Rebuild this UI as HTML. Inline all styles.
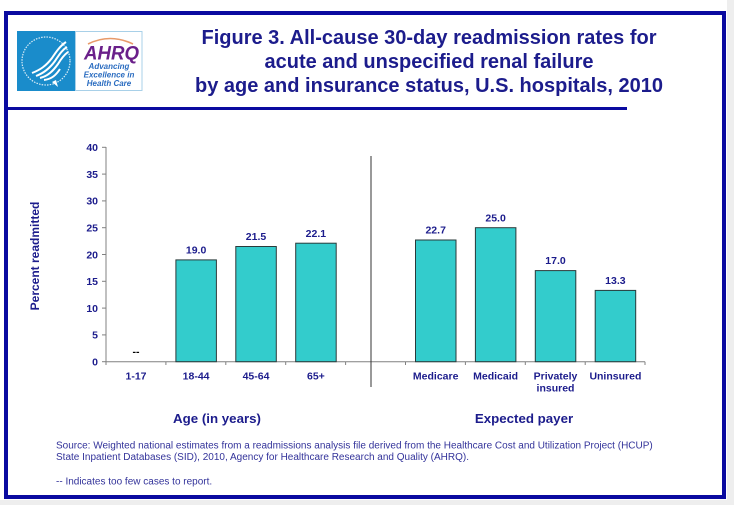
<!DOCTYPE html>
<html><head><meta charset="utf-8"><style>
html,body{margin:0;padding:0;background:#fff;}
svg{display:block;}
text{font-family:"Liberation Sans",Arial,sans-serif;}
</style></head><body>
<svg width="734" height="505" viewBox="0 0 734 505" xmlns="http://www.w3.org/2000/svg">
<rect x="0" y="0" width="734" height="505" fill="#fff"/>
<rect x="727" y="0" width="7" height="505" fill="#eeeeee"/>
<rect x="0" y="500" width="734" height="5" fill="#eeeeee"/>
<!-- frame -->
<rect x="6" y="13" width="718" height="484" fill="none" stroke="#0a0aa0" stroke-width="4"/>
<rect x="4" y="107" width="623" height="3" fill="#0a0aa0"/>
<!-- logo -->
<rect x="17" y="31" width="58" height="60" fill="#1a8ccb"/>
<circle cx="46" cy="61" r="24" fill="none" stroke="#fff" stroke-width="1.2" stroke-dasharray="1.5 1.2" opacity="0.85"/>
<path d="M32 73 C40 70 46 66 52 58 C56 52 60 46 66 42" fill="none" stroke="#fff" stroke-width="2"/>
<path d="M36 76 C44 73 50 68 55 61 C59 55 62 50 67 47" fill="none" stroke="#fff" stroke-width="2"/>
<path d="M40 78 C48 76 53 71 58 64 C61 59 64 55 68 52" fill="none" stroke="#fff" stroke-width="2"/>
<path d="M44 80 C52 79 56 75 60 69" fill="none" stroke="#fff" stroke-width="2"/>
<path d="M52 82 L58 87 L56 80 Z" fill="#fff"/>
<rect x="75.5" y="31.5" width="66.5" height="59" fill="#fff" stroke="#a8d0e8" stroke-width="1"/>
<path d="M88 44 Q110 33 133 44" fill="none" stroke="#e89a6a" stroke-width="1.6"/>
<text x="84" y="59.5" font-size="19" font-weight="bold" font-style="italic" fill="#6a1f8a" textLength="55" lengthAdjust="spacingAndGlyphs">AHRQ</text>
<text x="109" y="69" text-anchor="middle" font-size="8" font-weight="bold" font-style="italic" fill="#2a6cc0">Advancing</text>
<text x="109" y="77.5" text-anchor="middle" font-size="8" font-weight="bold" font-style="italic" fill="#2a6cc0">Excellence in</text>
<text x="109" y="86" text-anchor="middle" font-size="8" font-weight="bold" font-style="italic" fill="#2a6cc0">Health Care</text>
<!-- title -->
<g font-size="20" font-weight="bold" fill="#1c1c8c" text-anchor="middle">
<text x="429" y="44">Figure 3. All-cause 30-day readmission rates for</text>
<text x="429" y="68">acute and unspecified renal failure</text>
<text x="429" y="92">by age and insurance status, U.S. hospitals, 2010</text>
</g>
<!-- y axis -->
<line x1="106" y1="147" x2="106" y2="362" stroke="#808080" stroke-width="1"/>
<g stroke="#808080" stroke-width="1">
<line x1="102" y1="361.7" x2="106" y2="361.7"/>
<line x1="102" y1="334.9" x2="106" y2="334.9"/>
<line x1="102" y1="308.1" x2="106" y2="308.1"/>
<line x1="102" y1="281.3" x2="106" y2="281.3"/>
<line x1="102" y1="254.5" x2="106" y2="254.5"/>
<line x1="102" y1="227.7" x2="106" y2="227.7"/>
<line x1="102" y1="200.9" x2="106" y2="200.9"/>
<line x1="102" y1="174.1" x2="106" y2="174.1"/>
<line x1="102" y1="147.3" x2="106" y2="147.3"/>
</g>
<g font-size="10.5" font-weight="bold" fill="#1c1c8c" text-anchor="end">
<text x="98" y="365.5">0</text>
<text x="98" y="338.7">5</text>
<text x="98" y="311.9">10</text>
<text x="98" y="285.1">15</text>
<text x="98" y="258.3">20</text>
<text x="98" y="231.5">25</text>
<text x="98" y="204.7">30</text>
<text x="98" y="177.9">35</text>
<text x="98" y="151.1">40</text>
</g>
<text transform="translate(39,256) rotate(-90)" text-anchor="middle" font-size="12" font-weight="bold" fill="#1c1c8c">Percent readmitted</text>
<!-- x axis -->
<line x1="106" y1="361.7" x2="645" y2="361.7" stroke="#808080" stroke-width="1"/>
<g stroke="#808080" stroke-width="1">
<line x1="106" y1="361.7" x2="106" y2="365"/>
<line x1="165.9" y1="361.7" x2="165.9" y2="365"/>
<line x1="225.8" y1="361.7" x2="225.8" y2="365"/>
<line x1="285.7" y1="361.7" x2="285.7" y2="365"/>
<line x1="345.6" y1="361.7" x2="345.6" y2="365"/>
<line x1="405.5" y1="361.7" x2="405.5" y2="365"/>
<line x1="465.4" y1="361.7" x2="465.4" y2="365"/>
<line x1="525.3" y1="361.7" x2="525.3" y2="365"/>
<line x1="585.2" y1="361.7" x2="585.2" y2="365"/>
<line x1="645" y1="361.7" x2="645" y2="365"/>
</g>
<!-- divider -->
<line x1="371" y1="156" x2="371" y2="387" stroke="#333" stroke-width="1"/>
<!-- bars -->
<g fill="#33cccc" stroke="#2a3a3a" stroke-width="1">
<rect x="175.9" y="259.9" width="40.5" height="101.8"/>
<rect x="235.8" y="246.5" width="40.5" height="115.2"/>
<rect x="295.7" y="243.2" width="40.5" height="118.5"/>
<rect x="415.5" y="240.0" width="40.5" height="121.7"/>
<rect x="475.4" y="227.7" width="40.5" height="134.0"/>
<rect x="535.3" y="270.6" width="40.5" height="91.1"/>
<rect x="595.2" y="290.4" width="40.5" height="71.3"/>
</g>
<g font-size="10.5" font-weight="bold" fill="#1c1c8c" text-anchor="middle">
<text x="196.1" y="253.5">19.0</text>
<text x="256" y="240.1">21.5</text>
<text x="315.9" y="236.8">22.1</text>
<text x="435.7" y="233.6">22.7</text>
<text x="495.6" y="221.3">25.0</text>
<text x="555.5" y="264.2">17.0</text>
<text x="615.4" y="284">13.3</text>
</g>
<text x="136" y="355" text-anchor="middle" font-size="10.5" font-weight="bold" fill="#000">--</text>
<g font-size="10.5" font-weight="bold" fill="#1c1c8c" text-anchor="middle">
<text x="136" y="379.5">1-17</text>
<text x="196.1" y="379.5">18-44</text>
<text x="256" y="379.5">45-64</text>
<text x="315.9" y="379.5">65+</text>
<text x="435.7" y="379.5">Medicare</text>
<text x="495.6" y="379.5">Medicaid</text>
<text x="555.5" y="379.5">Privately</text>
<text x="555.5" y="391.5">insured</text>
<text x="615.4" y="379.5">Uninsured</text>
</g>
<g font-size="13.3" font-weight="bold" fill="#1c1c8c" text-anchor="middle">
<text x="217" y="423">Age (in years)</text>
<text x="524" y="423">Expected payer</text>
</g>
<g font-size="10" fill="#33339a">
<text x="56" y="448.5">Source: Weighted national estimates from a readmissions analysis file derived from the Healthcare Cost and Utilization Project (HCUP)</text>
<text x="56" y="460">State Inpatient Databases (SID), 2010, Agency for Healthcare Research and Quality (AHRQ).</text>
<text x="56" y="484.5">-- Indicates too few cases to report.</text>
</g>
</svg>
</body></html>
